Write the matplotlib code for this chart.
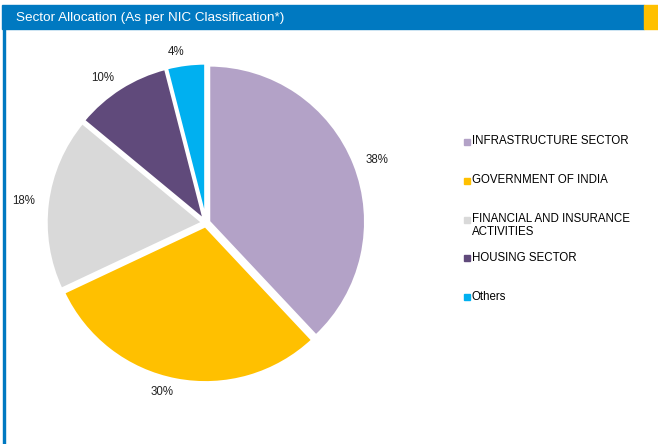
import matplotlib.pyplot as plt
from matplotlib.patches import Rectangle

sectors = ["INFRASTRUCTURE SECTOR", "GOVERNMENT OF INDIA",
           "FINANCIAL AND INSURANCE\nACTIVITIES", "HOUSING SECTOR", "Others"]
shares = [38, 30, 18, 10, 4]
colors = ["#B3A2C7", "#FFC000", "#D9D9D9", "#604A7B", "#00B0F0"]

plt.rcParams['font.family'] = ['Liberation Sans', 'DejaVu Sans']

W, H = 658, 444
fig = plt.figure(figsize=(W / 100, H / 100), dpi=100)

# header bar and left border
fig.patches.append(Rectangle((2/W, 1 - 29/H), 642/W, 24/H,
                             transform=fig.transFigure, color="#0079C1", zorder=0))
fig.patches.append(Rectangle((644/W, 1 - 29/H), 14/W, 24/H,
                             transform=fig.transFigure, color="#FFC000", zorder=0))
fig.patches.append(Rectangle((2.5/W, 0), 2/W, 1 - 29/H,
                             transform=fig.transFigure, color="#0079C1", zorder=0))
fig.text(16/W, 1 - 17.5/H, "Sector Allocation (As per NIC Classification*)",
         color="white", fontsize=9.7, va="center", ha="left")

ax = fig.add_axes([0.0775, 0.149, 0.471, 0.698])
wedges, texts = ax.pie(shares, colors=colors, startangle=90, counterclock=False,
                       explode=[0.02] * 5, labels=[f"{v}%" for v in shares],
                       labeldistance=1.08,
                       wedgeprops=dict(edgecolor="white", linewidth=2),
                       textprops=dict(fontsize=8.3, color="#222222"))
ax.set_xlim(-0.99, 0.99)
ax.set_ylim(-0.99, 0.99)
ax.set_aspect("equal")

# legend entries, evenly spaced like the original
for i, (name, c) in enumerate(zip(sectors, colors)):
    yc = 142 + i * 38.75
    fig.patches.append(Rectangle((464/W, 1 - (yc + 3)/H), 6/W, 6/H,
                                 transform=fig.transFigure, color=c))
    fig.text(472/W, 1 - (yc - 6.5)/H, name, fontsize=8.3, va="top", ha="left",
             linespacing=1.15, color="black")

fig.savefig("out.png", dpi=100)
